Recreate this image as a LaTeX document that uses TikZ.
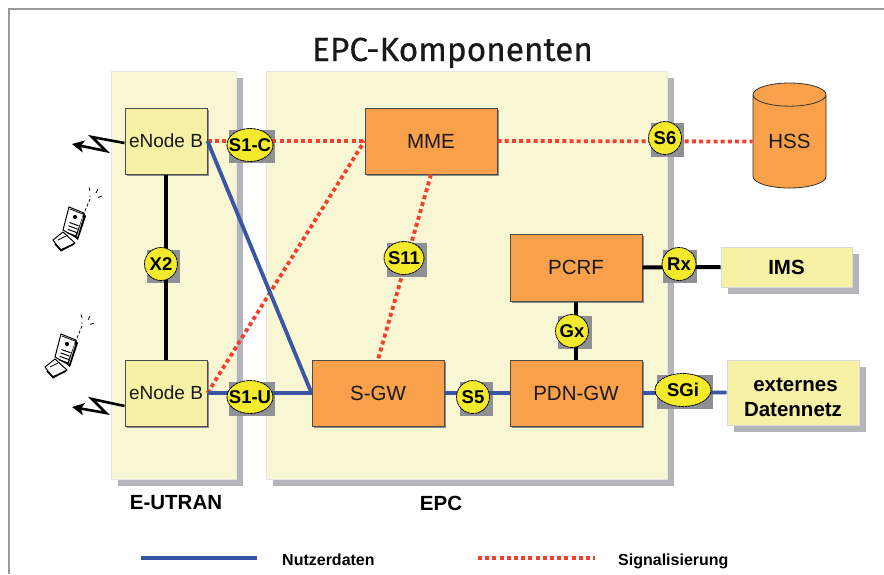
\documentclass[tikz,border=0pt]{standalone}
\usepackage{fontspec}
\setmainfont{Liberation Sans}
\newfontfamily\titlefont[FakeBold=0.25]{Fira Sans}
\usetikzlibrary{arrows.meta,shapes.geometric,calc}
\definecolor{panelc}{HTML}{F9F7D3}
\definecolor{shadowc}{HTML}{B4B5BA}
\definecolor{boxy}{HTML}{F6F1A4}
\definecolor{boxo}{HTML}{F9A04A}
\definecolor{badge}{HTML}{F2EA2B}
\definecolor{badgebg}{HTML}{8E9096}
\definecolor{bluec}{HTML}{3A55A5}
\definecolor{redc}{HTML}{F2402E}
\definecolor{framec}{HTML}{9A9A9A}
\newcommand{\fs}[1]{\fontsize{#1}{#1}\selectfont}
\newcommand{\badt}[1]{\makebox[0pt]{\raisebox{-.36em}[0pt][0pt]{#1}}}
\tikzset{
  panel/.style={fill=panelc,draw=white!90!black,line width=1pt,inner sep=0pt,anchor=north west},
  ybox/.style={fill=boxy,draw=black!70,line width=1pt,minimum width=82pt,minimum height=66pt,inner sep=0pt,font=\fs{19},text=black!90},
  obox/.style={fill=boxo,draw=black!70,line width=1pt,minimum width=132pt,minimum height=66pt,inner sep=0pt,font=\fs{20.5},text=black!90},
  extbox/.style={fill=boxy,draw=white!85!black,line width=1pt,inner sep=0pt,font=\bfseries\fs{20.5},text=black,align=center},
  bad/.style={ellipse,fill=badge,draw=black,line width=.8pt,dash pattern=on 3pt off .6pt,inner sep=0pt,font=\bfseries\fs{18.5},text=black},
  bline/.style={draw=black,line width=4pt},
  uline/.style={draw=bluec,line width=3.8pt},
  sline/.style={draw=redc,line width=3.8pt,dash pattern=on 4pt off 3.2pt},
  bolt/.style={draw=black,line width=2.6pt,-{Stealth[length=12pt,width=12pt,inset=3pt]},line join=miter},
  lab/.style={font=\bfseries\fs{20.5},text=black,inner sep=0pt},
  legt/.style={font=\bfseries\fs{16},text=black,inner sep=0pt,anchor=base west},
  phone/.pic={
    \draw[black,fill=white,line width=1pt] (69,207)--(84,213)--(77,238)--(63,230)--cycle;
    \fill[black] (84,213)--(86,216)--(78,240)--(75,237)--cycle;
    \draw[white,line width=.5pt] (83,217)--(77,237);
    \draw[black,line width=.8pt] (70,209)--(83,214);
    \draw[black,fill=white,line width=1pt] (53,240)--(63,232)--(75,243)--(61,251)--cycle;
    \draw[black,line width=1.6pt] (55,244)--(61,250)--(74,244);
    \draw[black,line width=.7pt] (58,240)--(66,236);
    \fill[black] (75,217) circle (2.1pt);
    \foreach \k in {0,1,2,3}{\draw[black,line width=1pt] ($(69.5,222.5)+(-.9*\k,3.4*\k)$) -- ++(9,3.2);}
    \draw[black,line width=.8pt,densely dashed] (85,211)--(90,199);
    \draw[black,line width=.8pt] (89,187.5)--(90,191) (98,189)--(96,193) (102,196)--(98,197.5) (90,195.5)--(90,197);
  }
}
\begin{document}
\begin{tikzpicture}[x=1pt,y=-1pt]
\useasboundingbox (0,0) rectangle (884,574);
\fill[white] (0,0) rectangle (884,574);
\draw[framec,line width=2pt] (9,574)--(9,9)--(884,9);
% panels
\fill[shadowc] (118,78) rectangle (243,486);
\fill[shadowc] (273,78) rectangle (674,486);
\node[panel,minimum width=125pt,minimum height=408pt] (eutran) at (111,71) {};
\node[panel,minimum width=401pt,minimum height=408pt] (epc) at (266,71) {};
% shadows of boxes
\fill[black!45] (127,110) rectangle (209,176);
\fill[black!45] (127,362) rectangle (209,428);
\fill[black!45] (367,110) rectangle (499,176);
\fill[black!45] (314,362) rectangle (446,428);
\fill[black!45] (512,362) rectangle (644,428);
\fill[black!45] (512,236) rectangle (644,303);
\fill[shadowc] (728,254) rectangle (859,294);
\fill[shadowc] (734,367) rectangle (866,432);
% nodes
\node[ybox] (enb1) at (166,141) {eNode B};
\node[ybox] (enb2) at (166,393) {eNode B};
\node[obox] (mme) at (431,141) {MME};
\node[obox] (sgw) at (378,393) {S-GW};
\node[obox] (pdn) at (576,393) {PDN-GW};
\node[obox,minimum height=67pt] (pcrf) at (576,267.5) {PCRF};
\node[extbox,minimum width=131pt,minimum height=40pt] (ims) at (786.5,267) {\raisebox{-2pt}{IMS}};
\node[extbox,minimum width=132pt,minimum height=65pt] (ext) at (793,392.5) {\rule{0pt}{24pt}\hspace{5pt}externes\\[4.5pt]Datennetz\hspace{4pt}};
% HSS cylinder
\node[cylinder,shape border rotate=90,aspect=.55,fill=boxo,draw=black!80,line width=.8pt,minimum width=73pt,minimum height=105pt,inner sep=0pt,cylinder uses custom fill,cylinder body fill=boxo,cylinder end fill=boxo!85!white,font=\fs{20.5},text=black!90] (hss) at (789.5,141.5) {HSS};
% badge backgrounds
\fill[badgebg] (229,130) rectangle (275,163);
\fill[badgebg] (229,382) rectangle (275,416);
\fill[badgebg] (147,250) rectangle (180,283);
\fill[badgebg] (651,123) rectangle (684,157);
\fill[badgebg] (663,250) rectangle (697,283);
\fill[badgebg] (657,375) rectangle (713,409);
\fill[badgebg] (387,243) rectangle (427,277);
\fill[badgebg] (460,382) rectangle (493,416);
\fill[badgebg] (558,316) rectangle (592,349);
% connectors
\draw[bline] (enb1.south) -- (enb2.north);
\draw[sline] (enb1.east) -- (mme.west);
\draw[sline] (enb2.east) -- (mme.west);
\draw[uline] (enb1.east) -- (sgw.west);
\draw[uline] (enb2.east) -- (sgw.west);
\draw[sline] (mme.south) -- (sgw.north);
\draw[sline] (mme.east) -- (hss.west);
\draw[uline] (sgw.east) -- (pdn.west);
\draw[uline] (pdn.east) -- (ext.west);
\draw[bline] (pcrf.south) -- (pdn.north);
\draw[bline] (pcrf.east) -- (ims.west);
% badges
\node[bad,minimum width=46pt,minimum height=33pt] (s1c) at (250,145) {\badt{S1-C}};
\node[bad,minimum width=46pt,minimum height=33pt] (s1u) at (250,397) {\badt{S1-U}};
\node[bad,minimum width=33pt,minimum height=33pt] (x2) at (161,264) {\badt{X2}};
\node[bad,minimum width=40pt,minimum height=33pt] (s11) at (404,258) {\badt{S11}};
\node[bad,minimum width=33pt,minimum height=33pt] (s5) at (473,397) {\badt{S5}};
\node[bad,minimum width=33pt,minimum height=33pt] (gx) at (572,331) {\badt{Gx}};
\node[bad,minimum width=34pt,minimum height=33pt] (rx) at (679,264) {\badt{Rx}};
\node[bad,minimum width=33pt,minimum height=33pt] (s6) at (665,138) {\badt{S6}};
\node[bad,minimum width=56pt,minimum height=33pt] (sgi) at (683,390) {\badt{SGi}};
% radio links
\coordinate (tip1) at (72,144);
\coordinate (tip2) at (72,407);
\draw[bolt] ($(enb1.west)+(0,2)$) -- (92,137) -- (106,151) -- (tip1);
\draw[bolt] ($(enb2.west)+(0,13)$) -- (92,399) -- (106,413) -- (tip2);
\pic at (0,0) {phone};
\pic at (-8,127) {phone};
% labels
\node[font=\titlefont\fs{33.4},text=black!90,inner sep=0pt,anchor=base] (title) at (452.5,61) {EPC-Komponenten};
\node[lab] (leut) at (176,503) {E-UTRAN};
\node[lab] (lepc) at (441,503) {EPC};
% legend
\coordinate (l1a) at (141,558);
\coordinate (l1b) at (257,558);
\coordinate (l2a) at (478,558);
\coordinate (l2b) at (595,558);
\draw[uline] (l1a) -- (l1b);
\draw[sline] (l2a) -- (l2b);
\node[legt] (lnutz) at (282,565) {Nutzerdaten};
\node[legt] (lsig) at (618,565) {Signalisierung};
\end{tikzpicture}
\end{document}
